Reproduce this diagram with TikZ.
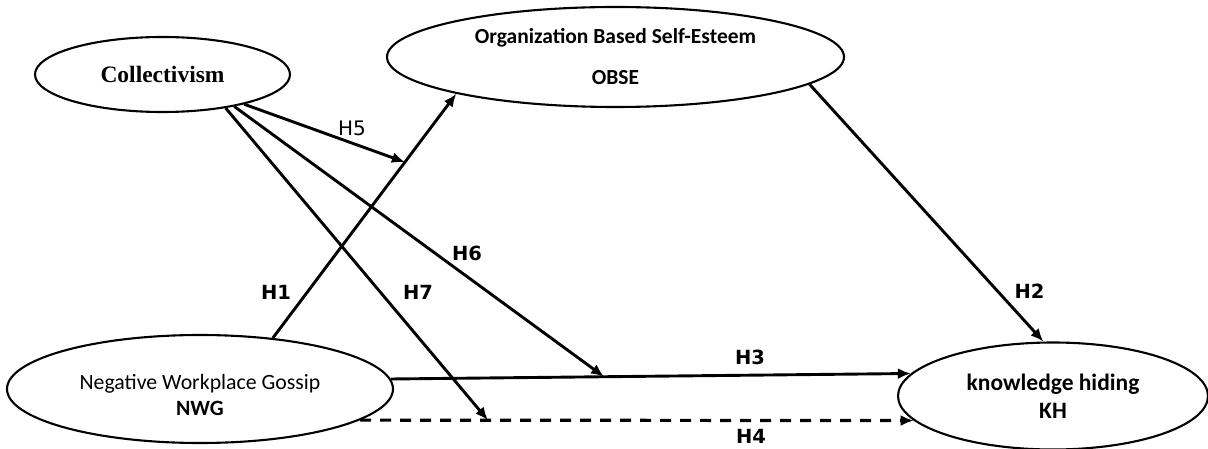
\documentclass[tikz,border=0pt]{standalone}
\usepackage{fontspec}
\setmainfont{Liberation Serif}
\newfontfamily\calib{Carlito}
\newfontfamily\dvsans{DejaVu Sans}
\usetikzlibrary{shapes.geometric, positioning, arrows.meta}

\tikzset{
  latent/.style={ellipse, draw, line width=2.1pt, inner sep=0pt, align=center},
  path/.style={->, line width=2.9pt},
  hyp/.style={font=\dvsans\bfseries\fontsize{19.5}{22}\selectfont},
}

\begin{document}
\begin{tikzpicture}[x=1pt, y=-1pt, on grid, >={Latex[length=13pt,width=11pt]}]
	\useasboundingbox (0,0) rectangle (1208,449);

	\node[latent, minimum width=255pt, minimum height=75pt, font=\bfseries\fontsize{23.5}{27}\selectfont] (coll) at (162.5,74.5) {Collectivism};
	\node[latent, above right=17.5pt and 453pt of coll, minimum width=457pt, minimum height=100pt, font=\calib\bfseries\fontsize{21.5}{25}\selectfont] (obse) {Organization Based Self-Esteem\\[16pt]OBSE};
	\node[latent, below right=314.5pt and 37.5pt of coll, minimum width=386pt, minimum height=108pt, font=\calib\fontsize{21.8}{26}\selectfont] (nwg) {\rule{0pt}{28pt}Negative Workplace Gossip\\{\bfseries NWG}};
	\node[latent, below right=7pt and 853pt of nwg, minimum width=310pt, minimum height=107pt, font=\calib\bfseries\fontsize{23.5}{28}\selectfont] (kh) {knowledge hiding\\KH};

	\draw[path] (nwg.35) -- coordinate[pos=0.72] (m1) (obse.193);
	\draw[path] (obse.352) -- (kh.100);
	\draw[path] (nwg.3) -- coordinate[pos=0.41] (m3) (kh.171);
	\draw[path, line width=3.2pt, dash pattern=on 11pt off 9pt] (nwg.-11) -- coordinate[pos=0.231] (m4) (kh.190);

	\draw[path] (coll.-20) -- (m1);
	\draw[path] (coll.-24) -- (m3);
	\draw[path] (coll.-28) -- (m4);

	\node[hyp] (h1) at (276,292) {H1};
	\node[hyp] (h2) at (1029.5,291.5) {H2};
	\node[hyp] (h3) at (750,357.5) {H3};
	\node[hyp] (h4) at (751,436) {H4};
	\node[font=\dvsans\fontsize{20}{23}\selectfont] (h5) at (352,128) {H5};
	\node[hyp] (h6) at (467,253) {H6};
	\node[hyp] (h7) at (418,292) {H7};
\end{tikzpicture}
\end{document}
